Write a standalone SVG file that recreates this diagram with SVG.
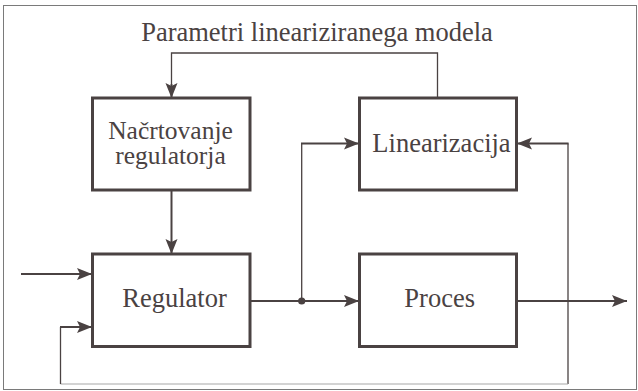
<svg xmlns="http://www.w3.org/2000/svg" width="638" height="391" viewBox="0 0 638 391">
<style>
.box{fill:#fff;stroke:#4a4242;stroke-width:3}
.lbl{font-family:"Liberation Serif","Times New Roman",serif;font-size:26.5px;fill:#4a4242;text-anchor:middle}
.sm{font-size:25.5px}
.thick{fill:none;stroke:#4a4242;stroke-width:2}
.thin{fill:none;stroke:#4a4242;stroke-width:1.3}
.light{fill:none;stroke:#a8a8a8;stroke-width:1.2}
</style>
<defs>
<marker id="arr" markerUnits="userSpaceOnUse" markerWidth="16" markerHeight="13" refX="15" refY="6" orient="auto" viewBox="0 0 16 12">
<path d="M0,0 L15,6 L0,12 L3,6 Z" fill="#4a4242"/>
</marker>
</defs>
<rect x="3.5" y="5.5" width="633" height="384" fill="#fff" stroke="#7a7a7a" stroke-width="1"/>
<text class="lbl" x="317" y="41">Parametri lineariziranega modela</text>
<g id="connectors">
<path class="thin" d="M437.5,98 V53 H171.5 V84"/>
<path class="thick" d="M171.5,84 V98" marker-end="url(#arr)"/>
<path class="thick" d="M171.5,190 V254" marker-end="url(#arr)"/>
<path class="thick" d="M21,274 H92" marker-end="url(#arr)"/>
<path class="thick" d="M250,301 H359" marker-end="url(#arr)"/>
<circle cx="301.7" cy="301" r="3.6" fill="#4a4242"/>
<path class="thin" d="M301.7,301 V143.5"/>
<path class="thick" d="M301,143.5 H359" marker-end="url(#arr)"/>
<path class="thick" d="M517,301 H627" marker-end="url(#arr)"/>
<path class="thin" d="M568,384 V143.5"/>
<path class="thick" d="M568.6,143.5 H517" marker-end="url(#arr)"/>
<path class="light" d="M568,384 H60.5"/>
<path class="thin" d="M60.5,384 V327"/>
<path class="thick" d="M60,327 H92" marker-end="url(#arr)"/>
</g>
<g id="nacrtovanje">
<rect class="box" x="92.5" y="98" width="157.5" height="92"/>
<text class="lbl sm" x="170.5" y="139">Načrtovanje</text>
<text class="lbl sm" x="170.5" y="164">regulatorja</text>
</g>
<g id="linearizacija">
<rect class="box" x="359.5" y="98" width="157" height="92"/>
<text class="lbl" x="441.5" y="151.7">Linearizacija</text>
</g>
<g id="regulator">
<rect class="box" x="92.5" y="254" width="157.5" height="92.5"/>
<text class="lbl" x="174.5" y="306.7">Regulator</text>
</g>
<g id="proces">
<rect class="box" x="359.5" y="254" width="157" height="92.5"/>
<text class="lbl" x="439.7" y="306.7">Proces</text>
</g>
</svg>
